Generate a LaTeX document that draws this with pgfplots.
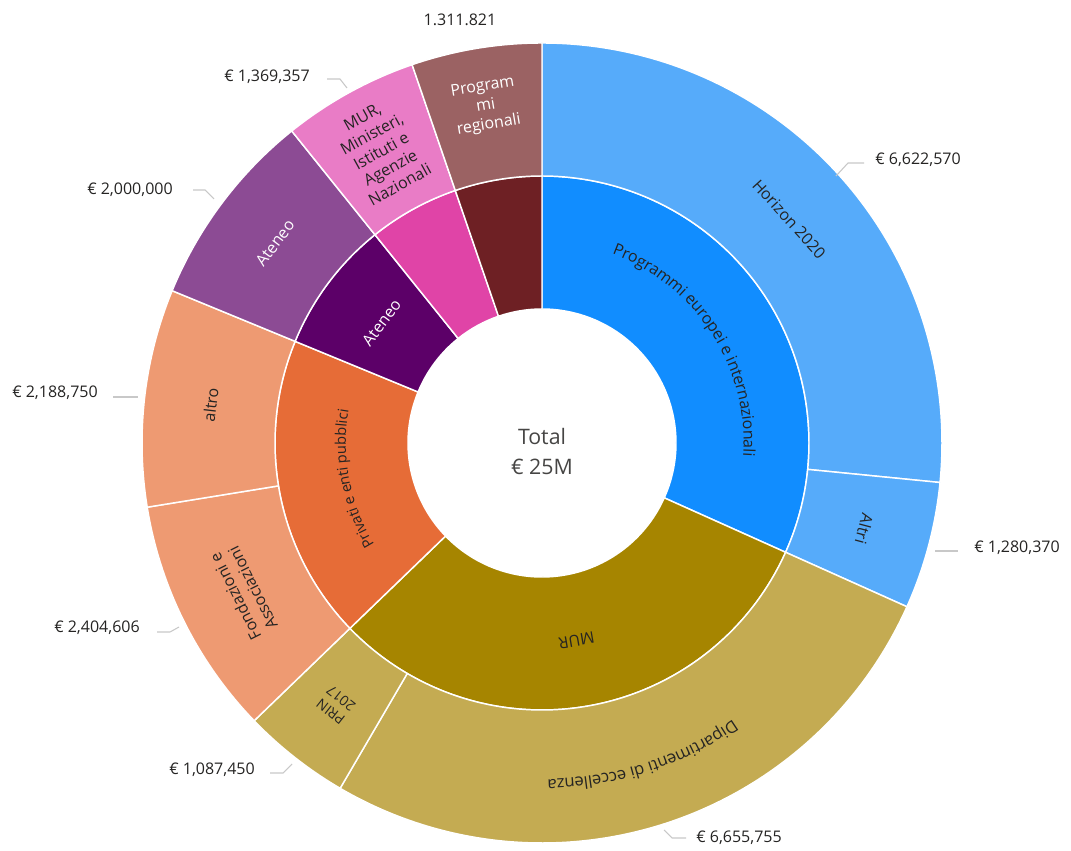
\documentclass[border=0pt]{standalone}
\usepackage{pgfplots}
\pgfplotsset{compat=1.18}
\usepackage{fontspec}
\setmainfont{Open Sans}
\usetikzlibrary{decorations.text}

\definecolor{cBlue}{HTML}{118DFF}
\definecolor{cSky}{HTML}{56ABFA}
\definecolor{cOlive}{HTML}{A68500}
\definecolor{cKhaki}{HTML}{C4AB52}
\definecolor{cOrange}{HTML}{E66C37}
\definecolor{cSalmon}{HTML}{EE9A72}
\definecolor{cPurple}{HTML}{5C0068}
\definecolor{cLilac}{HTML}{8C4B94}
\definecolor{cPink}{HTML}{E044A7}
\definecolor{cRose}{HTML}{E97CC6}
\definecolor{cMaroon}{HTML}{6E2024}
\definecolor{cBrown}{HTML}{9B6263}
\definecolor{lbl}{HTML}{252423}
\definecolor{lead}{HTML}{C8C8C8}

% values in millions of euro; total of the outer ring
\def\tot{24.920679}

% one wedge: value, inner radius, outer radius (px), fill
\newcommand\seg[4]{%
  \pgfmathsetmacro\angA{90-\cum/\tot*360}%
  \pgfmathsetmacro\angB{90-(\cum+#1)/\tot*360}%
  \pgfmathsetmacro\angM{(\angA+\angB)/2}%
  \pgfmathsetmacro\rin{#2*0.75}%
  \pgfmathsetmacro\rout{#3*0.75}%
  \pgfmathsetmacro\rmid{(\rin+\rout)/2}%
  \fill[#4, draw=white, line width=1.1pt, line join=round]
    ([shift={(\angA:\rout pt)}]O) arc[start angle=\angA, end angle=\angB, radius=\rout pt]
    -- ([shift={(\angB:\rin pt)}]O) arc[start angle=\angB, end angle=\angA, radius=\rin pt] -- cycle;
  \pgfmathsetmacro\cum{\cum+#1}%
}
% straight label at the middle of the last wedge
\newcommand\lab[2][]{%
  \node[rotate=\angM-90, align=center, text=lbl, inner sep=0pt,
        font=\fontsize{12}{14.5}\selectfont, #1] at ([shift={(\angM:\rmid pt)}]O) {#2};}
% curved label along the last wedge: radial offset (px), size (pt), text
\newcommand\clab[3][0]{%
  \pgfmathsetmacro\rtx{\rmid+#1*0.75}%
  \pgfmathsetmacro\rz{-0.3*#2}%
  \path[decorate, decoration={text along path, text align=center, raise=\rz pt,
        text color=lbl, text={|\fontsize{#2}{#2}\selectfont|#3}}]
    ([shift={(\angA:\rtx pt)}]O) arc[start angle=\angA, end angle=\angB, radius=\rtx pt];}
% value label with a short leader
\newcommand\val[3]{%
  \node[text=lbl, font=\fontsize{12}{14}\selectfont] at (axis cs:#1) {#2};
  \draw[lead, line width=0.8pt] #3;}

\begin{document}
\begin{tikzpicture}
\begin{axis}[
  x=0.75pt, y=0.75pt, scale only axis,
  xmin=0, xmax=1071, ymin=0, ymax=847,
  hide axis, clip=false,
]
\addplot[draw=none] coordinates {(0,0) (1071,847)};
\pgfplotsextra{
  \coordinate (O) at (axis cs:542,404);
  % inner ring
  \def\cum{0}
  \seg{7.902940}{134}{267}{cBlue}   \clab[6]{12}{Programmi europei e internazionali}
  \seg{7.743205}{134}{267}{cOlive}  \lab{MUR}
  \seg{4.593356}{134}{267}{cOrange} \clab{11}{Privati e enti pubblici}
  \seg{2.000000}{134}{267}{cPurple} \lab[text=white]{Ateneo}
  \seg{1.369357}{134}{267}{cPink}
  \seg{1.311821}{134}{267}{cMaroon}
  % outer ring
  \def\cum{0}
  \seg{6.622570}{267}{400}{cSky}    \lab{Horizon 2020}
  \seg{1.280370}{267}{400}{cSky}    \lab{Altri}
  \seg{6.655755}{267}{400}{cKhaki}  \clab[8]{12.5}{Dipartimenti di eccellenza}
  \seg{1.087450}{267}{400}{cKhaki}  \lab[font=\fontsize{10.5}{12.5}\selectfont]{PRIN\\2017}
  \seg{2.404606}{267}{400}{cSalmon} \lab{Fondazioni e\\Associazioni}
  \seg{2.188750}{267}{400}{cSalmon} \lab{altro}
  \seg{2.000000}{267}{400}{cLilac}  \lab[text=white]{Ateneo}
  \seg{1.369357}{267}{400}{cRose}   \lab{MUR,\\Ministeri,\\Istituti e\\Agenzie\\Nazionali}
  \seg{1.311821}{267}{400}{cBrown}  \lab[text=white, yshift=6pt]{Program\\mi\\regionali}
  % centre
  \node[text=lbl!85, font=\fontsize{16}{18}\selectfont] at (axis cs:542,410) {Total};
  \node[text=lbl!85, font=\fontsize{16}{18}\selectfont] at (axis cs:542,380) {€ 25M};
  % value labels
  \val{918,687}{€ 6,622,570}{(axis cs:836,671) -- (axis cs:848,684) -- (axis cs:864,684)}
  \val{1017,299}{€ 1,280,370}{(axis cs:935,296) -- (axis cs:958,296)}
  \val{739,9}{€ 6,655,755}{(axis cs:664,17) -- (axis cs:672,9) -- (axis cs:686,9)}
  \val{212,77}{€ 1,087,450}{(axis cs:270,74) -- (axis cs:283,74) -- (axis cs:292,83)}
  \val{97,219}{€ 2,404,606}{(axis cs:157,215) -- (axis cs:170,215) -- (axis cs:179,220)}
  \val{55,454}{€ 2,188,750}{(axis cs:113,450) -- (axis cs:138,450)}
  \val{130,657}{€ 2,000,000}{(axis cs:193,657) -- (axis cs:205,657) -- (axis cs:214,648)}
  \val{267,770}{€ 1,369,357}{(axis cs:327,768) -- (axis cs:340,768) -- (axis cs:347,759)}
  \node[text=lbl, font=\fontsize{12}{14}\selectfont] at (axis cs:460,827) {1.311.821};
}
\end{axis}
\end{tikzpicture}
\end{document}
